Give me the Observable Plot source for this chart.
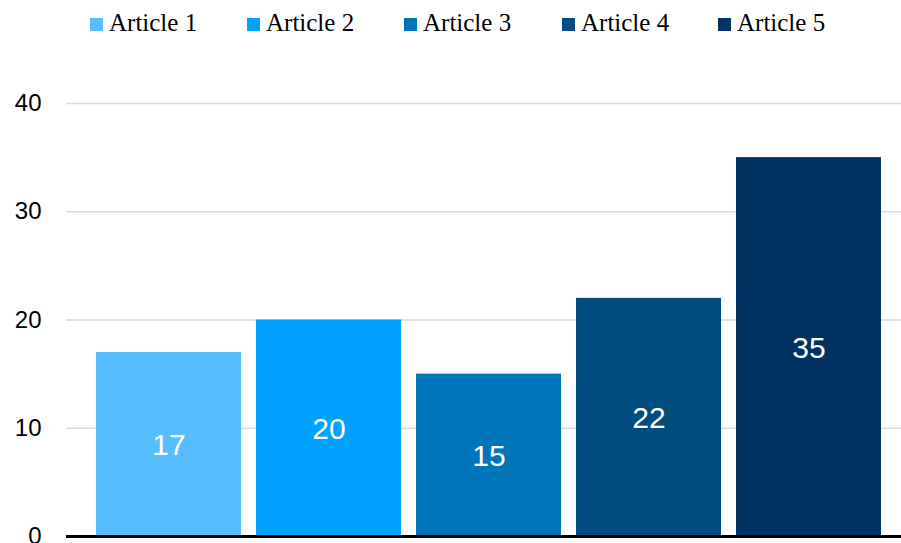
<!DOCTYPE html>
<html>
<head>
<meta charset="utf-8">
<script src="https://cdn.jsdelivr.net/npm/d3@7"></script>
<script src="https://cdn.jsdelivr.net/npm/@observablehq/plot@0.6"></script>
<style>
  html, body { margin: 0; padding: 0; background: white; width: 901px; height: 543px; overflow: hidden; }
  #legend { position: relative; height: 45px; font-family: "Liberation Serif", "Times New Roman", serif; font-size: 25px; color: #000; }
  .item { position: absolute; top: 9px; display: flex; align-items: center; white-space: nowrap; }
  .sw { width: 13px; height: 13px; margin-right: 6px; margin-top: 3px; }
</style>
</head>
<body>
<div id="legend"></div>
<div id="chart"></div>
<script>
const categories = ["Article 1", "Article 2", "Article 3", "Article 4", "Article 5"];
const values = [17, 20, 15, 22, 35];
const colors = ["#56BEFE", "#00A2FF", "#0076BA", "#004D80", "#003263"];
const yTicks = [0, 10, 20, 30, 40];

const data = categories.map((c, i) => ({category: c, value: values[i]}));

// legend
const legend = document.getElementById("legend");
const legendX = [90, 247, 404, 562, 718];
categories.forEach((c, i) => {
  const it = document.createElement("div");
  it.className = "item";
  it.style.left = legendX[i] + "px";
  const sw = document.createElement("span");
  sw.className = "sw";
  sw.style.background = colors[i];
  const t = document.createElement("span");
  t.textContent = c;
  it.appendChild(sw);
  it.appendChild(t);
  legend.appendChild(it);
});

const chart = Plot.plot({
  width: 901,
  height: 498,
  marginLeft: 66,
  marginRight: 0,
  marginTop: 58,
  marginBottom: 7,
  style: {fontFamily: "'Liberation Sans', Arial, Helvetica, sans-serif", fontSize: "24px", color: "#000", overflow: "visible", background: "white"},
  x: {domain: categories, range: [95, 881], paddingInner: 0.094, paddingOuter: 0, axis: null},
  y: {domain: [0, 40], ticks: yTicks, label: null, tickSize: 0, tickPadding: 25},
  color: {domain: categories, range: colors},
  marks: [
    Plot.gridY(yTicks.filter(d => d > 0), {stroke: "#d9d9d9", strokeOpacity: 1, strokeWidth: 1.5}),
    Plot.axisY({ticks: yTicks, tickSize: 0, tickPadding: 25, fontSize: 24, label: null}),
    Plot.barY(data, {x: "category", y: "value", fill: "category"}),
    Plot.text(data, {x: "category", y: d => d.value / 2, text: d => String(d.value), fill: "white", fontSize: 30, dy: 1}),
    Plot.ruleY([0], {stroke: "#000", strokeWidth: 3})
  ]
});
document.getElementById("chart").appendChild(chart);
</script>
</body>
</html>
